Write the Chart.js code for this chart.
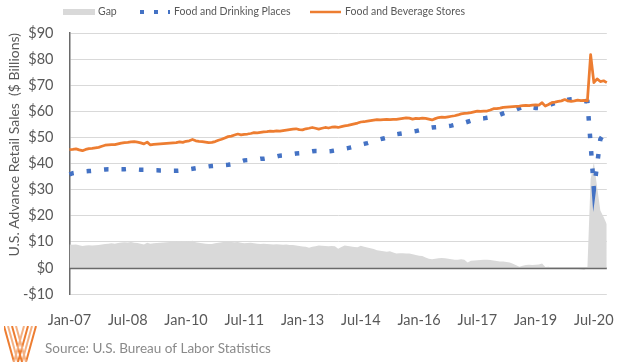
<!DOCTYPE html>
<html>
<head>
<meta charset="utf-8">
<script src="https://cdn.jsdelivr.net/npm/chart.js@4/dist/chart.umd.min.js"></script>
<style>
  html, body { margin: 0; padding: 0; background: #fff; }
  #chart { display: block; }
</style>
</head>
<body>
<canvas id="chart" width="624" height="362"></canvas>
<script>
// monthly categories, Jan-07 onward
let monthNames = ['Jan', 'Feb', 'Mar', 'Apr', 'May', 'Jun', 'Jul', 'Aug', 'Sep', 'Oct', 'Nov', 'Dec']
let monthCount = 167
let labelEvery = 18

// $ billions
let gapValues = [
  9.0, 8.9, 9.0, 8.7, 8.4, 8.6, 8.7, 8.6, 8.7, 8.8, 9.0, 9.2,
  9.3, 9.4, 9.3, 9.5, 9.7, 9.8, 9.7, 9.9, 9.6, 9.5, 9.3, 9.0,
  9.6, 9.3, 9.4, 9.5, 9.6, 9.7, 9.8, 9.9, 10.0, 10.1, 10.2, 10.0,
  10.2, 10.1, 10.4, 9.8, 9.6, 9.4, 9.3, 9.2, 9.2, 9.4, 9.6, 9.8,
  10.0, 10.0, 9.9, 9.8, 9.9, 9.6, 9.4, 9.5, 9.6, 9.4, 9.3, 9.2,
  9.3, 9.2, 9.1, 9.0, 9.1, 9.0, 8.9, 9.0, 8.8, 8.8, 8.6, 8.4,
  8.2, 8.1, 7.7, 8.1, 8.3, 8.6, 8.5, 8.4, 8.3, 8.4, 8.3, 7.3,
  8.0, 8.6, 8.4, 8.2, 8.0, 7.9, 8.5, 8.1, 7.8, 7.5, 7.2, 6.8,
  6.6, 6.4, 6.2, 6.4, 5.9, 5.5, 5.6, 5.6, 5.5, 5.5, 5.2, 4.9,
  4.7, 4.6, 4.0, 3.5, 3.3, 3.5, 3.7, 3.8, 3.7, 3.5, 3.3, 3.1,
  3.1, 3.3, 3.1, 2.1, 2.7, 2.8, 2.9, 3.0, 3.1, 3.1, 3.0, 2.8,
  2.6, 2.5, 2.5, 2.3, 2.1, 1.6, 1.0, 0.4, 0.8, 1.1, 1.2, 1.1,
  1.2, 1.3, 1.7, 0.3, 0.4, 0.2, 0.1, 0.0, 0.0, -0.1, -0.2, -0.3,
  -0.3, -0.4, -0.5, -0.7, 0.0, 34.0, 40.5, 31.0, 22.0, 19.5, 16.7,
]

let drinkingValues = [
  35.8, 36.3, 36.5, 36.7, 36.8, 37.0, 37.1, 37.2, 37.4, 37.5, 37.6, 37.7,
  37.8, 37.8, 37.9, 37.9, 37.8, 37.8, 37.9, 37.8, 37.8, 37.7, 37.6, 37.6,
  37.6, 37.5, 37.4, 37.4, 37.3, 37.3, 37.2, 37.3, 37.2, 37.2, 37.3, 37.4,
  37.6, 37.8, 38.0, 38.2, 38.3, 38.5, 38.7, 38.9, 39.0, 39.1, 39.3, 39.4,
  39.4, 39.5, 39.7, 39.9, 40.4, 40.8, 41.2, 41.3, 41.4, 41.5, 41.6, 41.8,
  41.8, 42.0, 42.3, 42.5, 42.7, 43.0, 43.1, 43.3, 43.5, 43.6, 43.8, 43.9,
  44.1, 44.3, 44.5, 44.7, 44.8, 44.8, 44.9, 44.8, 44.7, 44.8, 45.0, 45.2,
  45.5, 45.7, 45.9, 46.2, 46.5, 46.8, 47.2, 47.5, 47.8, 48.2, 48.6, 49.0,
  49.3, 49.6, 49.9, 50.3, 50.7, 51.2, 51.4, 51.6, 51.8, 52.0, 52.2, 52.4,
  52.7, 53.0, 53.3, 53.6, 53.8, 53.9, 54.0, 54.0, 54.1, 54.3, 54.5, 54.8,
  55.0, 55.3, 55.6, 56.0, 56.4, 56.8, 57.0, 57.2, 57.3, 57.5, 57.7, 58.0,
  58.3, 58.7, 59.2, 59.6, 59.9, 60.3, 60.7, 61.2, 61.7, 62.0, 61.8, 61.5,
  61.3, 61.2, 61.4, 61.8, 62.3, 62.8, 63.2, 63.5, 63.8, 64.1, 64.4, 64.6,
  64.7, 64.5, 64.2, 64.0, 63.7, 47.5, 30.0, 39.5, 49.3, 51.2, 53.0,
]

let beverageValues = [
  45.3, 45.4, 45.6, 45.2, 44.9, 45.4, 45.7, 45.8, 46.0, 46.2, 46.6, 47.0,
  47.1, 47.2, 47.2, 47.5, 47.8, 48.0, 48.1, 48.3, 48.4, 48.2, 47.9, 47.5,
  48.2, 47.1, 47.3, 47.4, 47.5, 47.6, 47.7, 47.8, 47.9, 48.0, 48.3, 48.1,
  48.5, 48.7, 49.2, 48.7, 48.5, 48.4, 48.2, 48.0, 48.1, 48.4, 48.9, 49.3,
  49.8, 50.3, 50.5, 50.9, 51.3, 51.0, 51.2, 51.3, 51.5, 51.8, 51.7, 51.9,
  52.1, 52.2, 52.4, 52.3, 52.5, 52.4, 52.6, 52.8, 53.0, 53.2, 53.3, 53.0,
  52.9, 53.3, 53.5, 53.8, 53.5, 53.2, 53.5, 53.8, 53.6, 53.9, 54.0, 53.8,
  54.1, 54.4, 54.6, 54.9, 55.2, 55.5, 55.9, 56.0, 56.2, 56.4, 56.6, 56.8,
  56.7, 56.8, 56.9, 56.8, 56.9, 56.9, 57.1, 57.3, 57.5, 57.4, 57.0, 57.3,
  57.2, 57.4, 57.3, 57.0, 56.7, 57.2, 57.6, 57.8, 57.7, 57.9, 58.1, 58.3,
  58.6, 59.0, 59.2, 59.3, 59.5, 59.8, 60.1, 60.0, 60.1, 60.1, 60.5, 61.0,
  61.0, 61.2, 61.5, 61.6, 61.7, 61.8, 61.9, 62.0, 62.2, 62.3, 62.2, 62.4,
  62.5, 62.4, 63.3, 62.0, 62.6, 63.3, 63.5, 63.8, 64.0, 64.5, 64.0, 63.8,
  64.0, 64.3, 64.1, 64.2, 64.0, 81.7, 71.0, 72.4, 71.4, 71.7, 71.0,
]

let yMin = -10
let yMax = 90
let yStep = 10

let months = []
for (let i = 0; i < monthCount; ++i) {
  let yr = 7 + Math.floor(i / 12)
  months.push(monthNames[i % 12] + '-' + String(yr).padStart(2, '0'))
}

let fontFamily = 'Lato, "Open Sans", sans-serif'
let textGrey = '#595959'
let gapGrey = '#d9d9d9'
let blue = '#4472c4'
let orange = '#ed7d31'

function dollars(v) {
  return v < 0 ? '-$' + Math.abs(v) : '$' + v
}

// zero line on top of the grey area, legend, source note and logo
let extras = {
  id: 'extras',
  afterDatasetsDraw(chart) {
    let ctx = chart.ctx
    let area = chart.chartArea
    let y0 = Math.round(chart.scales.y.getPixelForValue(0)) + 0.5
    ctx.save()
    ctx.strokeStyle = '#6a6a6a'
    ctx.lineWidth = 1.5
    ctx.beginPath()
    ctx.moveTo(area.left, y0)
    ctx.lineTo(area.right, y0)
    ctx.stroke()
    ctx.restore()
  },
  afterDraw(chart) {
    let ctx = chart.ctx
    ctx.save()
    ctx.font = '10.5px ' + fontFamily
    ctx.fillStyle = textGrey
    ctx.textBaseline = 'middle'

    ctx.fillStyle = gapGrey
    ctx.fillRect(63, 9, 32, 6)
    ctx.fillStyle = textGrey
    ctx.fillText('Gap', 98, 12)

    ctx.strokeStyle = blue
    ctx.lineWidth = 4
    ctx.setLineDash([4, 10])
    ctx.beginPath()
    ctx.moveTo(140, 12)
    ctx.lineTo(170, 12)
    ctx.stroke()
    ctx.setLineDash([])
    ctx.fillText('Food and Drinking Places', 174, 12)

    ctx.strokeStyle = orange
    ctx.lineWidth = 2.5
    ctx.beginPath()
    ctx.moveTo(310, 12)
    ctx.lineTo(341, 12)
    ctx.stroke()
    ctx.fillText('Food and Beverage Stores', 345, 12)

    ctx.font = '13.5px ' + fontFamily
    ctx.fillStyle = '#8a8a8a'
    ctx.fillText('Source: U.S. Bureau of Labor Statistics', 45, 349)

    // striped logo
    ctx.beginPath()
    ctx.rect(4, 326, 33, 36)
    ctx.clip()
    ctx.lineWidth = 2
    for (let k = 0; k < 4; ++k) {
      ctx.strokeStyle = k % 2 ? '#f4b183' : '#ed7d31'
      ctx.beginPath()
      ctx.moveTo(4 + k * 4, 326)
      ctx.lineTo(14 + k * 4, 362)
      ctx.stroke()
      ctx.beginPath()
      ctx.moveTo(36 - k * 4, 326)
      ctx.lineTo(26 - k * 4, 362)
      ctx.stroke()
    }
    ctx.restore()
  },
}

let ctx = document.getElementById('chart').getContext('2d')
let chart = new Chart(ctx, {
  type: 'line',
  data: {
    labels: months,
    datasets: [
      {
        label: 'Gap',
        data: gapValues,
        backgroundColor: gapGrey,
        borderWidth: 0,
        fill: 'origin',
        pointRadius: 0,
        tension: 0,
        order: 3,
      },
      {
        label: 'Food and Drinking Places',
        data: drinkingValues,
        borderColor: blue,
        backgroundColor: blue,
        borderWidth: 4.5,
        borderDash: [4.5, 13],
        borderCapStyle: 'butt',
        fill: false,
        pointRadius: 0,
        tension: 0,
        order: 2,
      },
      {
        label: 'Food and Beverage Stores',
        data: beverageValues,
        borderColor: orange,
        backgroundColor: orange,
        borderWidth: 2.75,
        borderJoinStyle: 'round',
        fill: false,
        pointRadius: 0,
        tension: 0,
        order: 1,
      },
    ],
  },
  options: {
    responsive: false,
    animation: false,
    layout: {
      padding: {top: 33, right: 13, bottom: 0, left: 0},
    },
    plugins: {
      legend: {display: false},
      tooltip: {enabled: false},
    },
    scales: {
      x: {
        type: 'category',
        grid: {display: false},
        border: {display: false},
        ticks: {
          autoSkip: false,
          maxRotation: 0,
          padding: 10,
          color: textGrey,
          font: {family: fontFamily, size: 14.5},
          callback: function(value, index) {
            return index % labelEvery === 0 ? this.getLabelForValue(value) : null
          },
        },
        afterFit(scale) {
          scale.height = 68
        },
      },
      y: {
        min: yMin,
        max: yMax,
        grid: {color: gapGrey, drawTicks: false},
        border: {color: '#6a6a6a', width: 1.5},
        ticks: {
          stepSize: yStep,
          padding: 16,
          color: textGrey,
          font: {family: fontFamily, size: 14.5},
          callback: dollars,
        },
        title: {
          display: true,
          text: 'U.S. Advance Retail Sales  ($ Billions)',
          align: 'end',
          color: textGrey,
          font: {family: fontFamily, size: 14},
          padding: {top: 6, bottom: 0},
        },
        afterFit(scale) {
          scale.width = 69.5
        },
      },
    },
  },
  plugins: [extras],
})
</script>
</body>
</html>
